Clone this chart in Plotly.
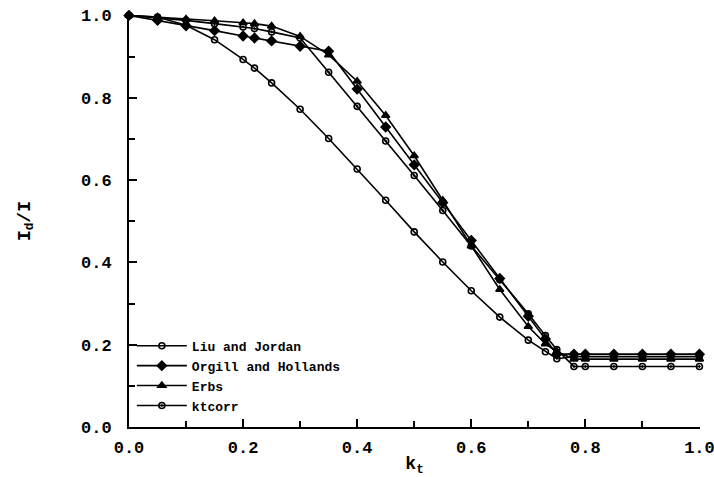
import plotly.graph_objects as go

kt = [0.0, 0.05, 0.10, 0.15, 0.20, 0.22, 0.25, 0.30, 0.35, 0.40, 0.45, 0.50,
      0.55, 0.60, 0.65, 0.70, 0.73, 0.75, 0.78, 0.80, 0.85, 0.90, 0.95, 1.00]

liu_jordan = [1.000, 0.996, 0.976, 0.941, 0.893, 0.872, 0.836, 0.772, 0.701, 0.627,
              0.551, 0.474, 0.401, 0.331, 0.267, 0.211, 0.183, 0.166, 0.171, 0.171,
              0.171, 0.171, 0.171, 0.171]
orgill_hollands = [1.000, 0.988, 0.975, 0.963, 0.950, 0.945, 0.938, 0.925, 0.913, 0.821,
                   0.729, 0.637, 0.545, 0.453, 0.361, 0.269, 0.214, 0.177, 0.177, 0.177,
                   0.177, 0.177, 0.177, 0.177]
erbs = [1.000, 0.996, 0.991, 0.987, 0.982, 0.980, 0.974, 0.949, 0.904, 0.840,
        0.757, 0.659, 0.551, 0.440, 0.334, 0.244, 0.202, 0.183, 0.165, 0.165,
        0.165, 0.165, 0.165, 0.165]
ktcorr = [1.000, 0.994, 0.988, 0.980, 0.972, 0.968, 0.960, 0.945, 0.862, 0.779,
          0.695, 0.611, 0.526, 0.440, 0.358, 0.275, 0.222, 0.188, 0.147, 0.147,
          0.147, 0.147, 0.147, 0.147]

tick_vals = [0, 0.2, 0.4, 0.6, 0.8, 1.0]
tick_text = ["0.0", "0.2", "0.4", "0.6", "0.8", "1.0"]
minor_vals = [0.1, 0.3, 0.5, 0.7, 0.9]

series = [
    ("Liu and Jordan", liu_jordan, "circle-open", 6),
    ("Orgill and Hollands", orgill_hollands, "diamond", 7),
    ("Erbs", erbs, "triangle-up", 7),
    ("ktcorr", ktcorr, "circle-open-dot", 6),
]

FONT = "Liberation Mono"
fig = go.Figure()
for name, ys, sym, sz in series:
    fig.add_trace(go.Scatter(
        x=kt, y=ys, name=name, mode="lines+markers",
        line=dict(color="black", width=1.6),
        marker=dict(symbol=sym, size=sz, color="black",
                    line=dict(color="black", width=1.6)),
        cliponaxis=False,
    ))

def axis_common(rng):
    return dict(
        range=rng, showline=True, linecolor="black", linewidth=2,
        ticks="inside", ticklen=8, tickwidth=2, tickcolor="black",
        tickvals=tick_vals, ticktext=tick_text,
        minor=dict(ticks="inside", ticklen=6, tickwidth=1.5, tickcolor="black",
                   tickvals=minor_vals),
        showgrid=False, zeroline=False, ticklabeloverflow="allow",
        automargin=False,
        tickfont=dict(family=FONT, size=17, color="black", weight="bold"),
    )

fig.update_layout(
    width=714, height=477,
    margin=dict(l=129, r=14, t=15, b=50),
    plot_bgcolor="white", paper_bgcolor="white",
    font=dict(family=FONT, color="black"),
    xaxis=dict(**axis_common([0, 1.001]), ticklabelstandoff=4,
               title=dict(text="k<sub>t</sub>", standoff=4,
                          font=dict(family=FONT, size=18, color="black", weight="bold"))),
    yaxis=dict(**axis_common([0, 1.001]), ticklabelstandoff=12,
               title=dict(text="I<sub>d</sub>/I", standoff=46,
                          font=dict(family=FONT, size=18, color="black", weight="bold"))),
    legend=dict(x=0.005, y=0.015, xanchor="left", yanchor="bottom",
                bgcolor="rgba(0,0,0,0)", borderwidth=0, tracegroupgap=0,
                itemwidth=50,
                font=dict(family=FONT, size=13, color="black", weight="bold")),
    showlegend=True,
)

fig.write_html("out.html")
